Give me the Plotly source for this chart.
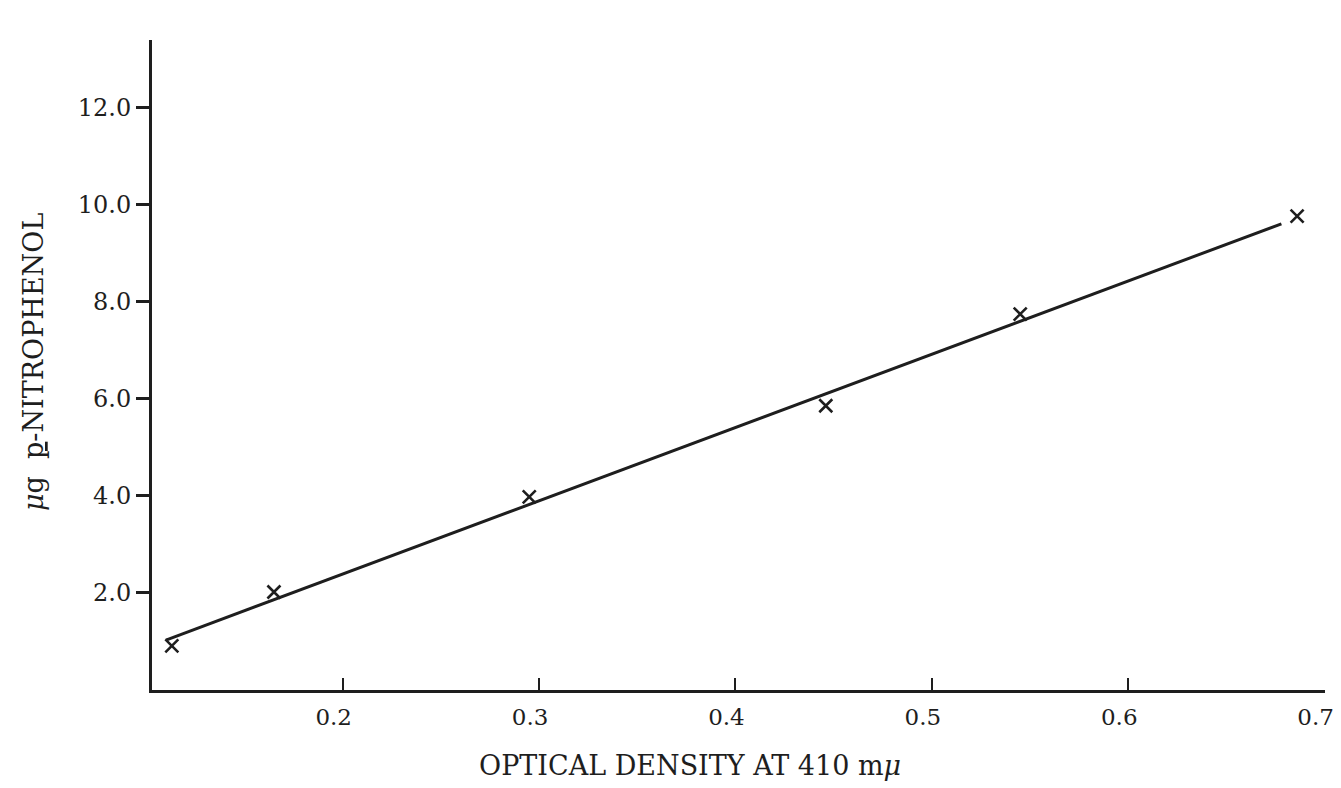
import plotly.graph_objects as go

# data
od_points = [0.113, 0.165, 0.295, 0.446, 0.545, 0.686]
ug_points = [0.91, 2.02, 3.98, 5.86, 7.75, 9.77]
fit_x = [0.11, 0.678]
fit_y = [1.03, 9.61]
x_ticks = [0.2, 0.3, 0.4, 0.5, 0.6, 0.7]
x_ticklabels = ["0.2", "0.3", "0.4", "0.5", "0.6", "0.7"]
y_ticks = [2, 4, 6, 8, 10, 12]
y_ticklabels = ["2.0", "4.0", "6.0", "8.0", "10.0", "12.0"]

INK = "#1e1e1e"
FONT = "DejaVu Serif"

fig = go.Figure()
fig.add_trace(go.Scatter(x=fit_x, y=fit_y, mode="lines",
                         line=dict(color=INK, width=3), hoverinfo="skip",
                         showlegend=False))
fig.add_trace(go.Scatter(x=od_points, y=ug_points, mode="markers",
                         marker=dict(symbol="x-thin", size=13,
                                     line=dict(color=INK, width=2.6)),
                         showlegend=False))

fig.update_layout(
    width=1341, height=788,
    margin=dict(l=152, r=16, t=40, b=98, autoexpand=False),
    paper_bgcolor="white", plot_bgcolor="white",
    font=dict(family=FONT, color=INK, size=24),
    xaxis=dict(range=[0.1029, 0.7002], tickvals=x_ticks, ticktext=x_ticklabels,
               showgrid=False, zeroline=False, showline=True, automargin=False,
               linecolor=INK, linewidth=3, ticks="inside", ticklen=12,
               tickwidth=2, tickcolor=INK, ticklabeloverflow="allow",
               ticklabelshift=-9, ticklabelstandoff=4,
               tickfont=dict(size=23, family=FONT)),
    yaxis=dict(range=[0, 13.4], tickvals=y_ticks, ticktext=y_ticklabels,
               showgrid=False, zeroline=False, showline=True, automargin=False,
               linecolor=INK, linewidth=3, ticks="outside", ticklen=13,
               tickwidth=3, tickcolor=INK,
               tickfont=dict(size=24, family=FONT)),
    annotations=[
        dict(text="OPTICAL DENSITY AT 410 m<i>μ</i>", xref="paper", yref="paper",
             x=(690 - 152) / (1341 - 152 - 16), y=-(765 - 690) / (690 - 40),
             xanchor="center", yanchor="middle", showarrow=False,
             font=dict(size=27, family=FONT)),
        dict(text="<i>μ</i>g  <u>p</u>-NITROPHENOL", xref="paper", yref="paper",
             x=-(152 - 33) / (1341 - 152 - 16), y=(690 - 362) / (690 - 40),
             xanchor="center", yanchor="middle", textangle=-90, showarrow=False,
             font=dict(size=27, family=FONT)),
    ],
)

fig.write_html("out.html")
